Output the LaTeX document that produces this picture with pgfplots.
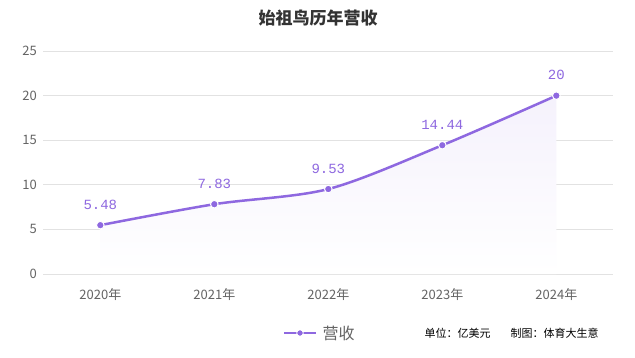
\documentclass[border=0pt]{standalone}
\usepackage{pgfplots}
\pgfplotsset{compat=1.18}
\usepackage{fontspec}
\setmainfont{Liberation Sans}
\newfontfamily\cjk{Noto Sans CJK SC}
\newfontfamily\mono{Liberation Mono}
\definecolor{lc}{RGB}{142,104,224}
\definecolor{gridc}{RGB}{226,226,226}
\definecolor{tickc}{RGB}{100,100,100}
\begin{document}
\begin{tikzpicture}[x=1pt,y=1pt]
\path[fill=white] (0,0) rectangle (635,357);
\useasboundingbox (0,0) rectangle (635,357);
\begin{axis}[
  at={(38,93)}, anchor=south west,
  scale only axis, width=570pt, height=223pt,
  xmin=-0.5, xmax=4.5, ymin=0, ymax=25,
  xtick={0,1,2,3,4},
  xticklabels={2020年,2021年,2022年,2023年,2024年},
  ytick={0,5,10,15,20,25},
  axis line style={draw=none},
  ymajorgrids, grid style={gridc, line width=0.8pt},
  major tick length=0pt,
  tick label style={font=\cjk\fontsize{13}{15}\selectfont, text=tickc},
  xticklabel style={yshift=-11pt},
  yticklabel style={xshift=-3pt},
  /pgf/number format/assume math mode=true,
  clip=false,
]
\addplot[draw=none, top color=lc!9, bottom color=white, smooth, tension=0.5] coordinates {(0,5.48)(1,7.83)(2,9.53)(3,14.44)(4,20)} \closedcycle;
\addplot[lc, line width=2.5pt, smooth, tension=0.5,
  mark=*, mark size=3.8pt, mark options={fill=lc, draw=white, line width=1pt},
  nodes near coords, point meta=explicit symbolic,
  every node near coord/.style={font=\mono\fontsize{14}{16}\selectfont, text=lc, yshift=12pt}]
  coordinates {(0,5.48)[5.48] (1,7.83)[7.83] (2,9.53)[9.53] (3,14.44)[14.44] (4,20)[20]};
\end{axis}
\node[font=\cjk\bfseries\fontsize{17}{20}\selectfont, text={rgb,255:red,51;green,51;blue,51}] at (318,339) {始祖鸟历年营收};
\draw[lc, line width=2.5pt] (284,24) -- (316,24);
\fill[lc] (300,24) circle (3pt);
\draw[white, line width=0.8pt] (300,24) circle (3.3pt);
\node[anchor=west, font=\cjk\fontsize{16}{18}\selectfont, text=tickc] at (319,24) {营收};
\node[anchor=west, font=\cjk\fontsize{11}{13}\selectfont, text=black] at (421,24) {单位：亿美元};
\node[anchor=west, font=\cjk\fontsize{11}{13}\selectfont, text=black] at (507,24) {制图：体育大生意};
\end{tikzpicture}
\end{document}
